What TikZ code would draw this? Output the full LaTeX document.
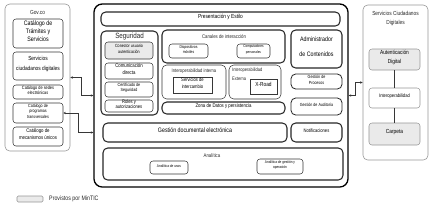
\documentclass[tikz,border=0pt]{standalone}
\usepackage{fontspec}
\setmainfont[FakeStretch=0.82]{Liberation Sans}
\usetikzlibrary{arrows.meta,fit}
\definecolor{boxgray}{RGB}{234,234,234}
\definecolor{panelgray}{RGB}{150,150,150}
\definecolor{inkgray}{RGB}{55,55,55}
\newcommand{\fsz}[2]{\fontsize{#1}{#2}\selectfont}

\begin{document}
\begin{tikzpicture}[
  x=0.03cm, y=-0.03cm,
  panel/.style={draw=panelgray, line width=0.5pt, rounded corners=4pt, inner sep=0pt, align=center},
  mainbox/.style={draw=black, line width=1.1pt, rounded corners=7pt, inner sep=0pt},
  layer/.style={draw=black!85, line width=0.9pt, rounded corners=4pt, inner sep=0pt, align=center},
  item/.style={draw=inkgray, line width=0.45pt, rounded corners=2.5pt, inner sep=0pt, align=center, fill=white},
  mintic/.style={item, fill=boxgray},
  ttl/.style={inner sep=0pt, align=center, text=black!85},
  conn/.style={{Stealth[length=2.2pt,width=2pt]}-{Stealth[length=2.2pt,width=2pt]}, line width=0.4pt, inkgray}
]
\useasboundingbox (0,0) rectangle (434,212);

% Gov.co
\node[panel, fit={(5,4)(70,151)}](govco){};
\node[ttl, font=\fsz{5}{6}](govcoT) at (37.5,12){Gov.co};
\node[item, font=\fsz{5.5}{7.2}, fit={(13,19)(63,48)}](tramites){Catálogo de\\Trámites y\\Servicios};
\node[item, font=\fsz{5}{8}, fit={(13,52)(63,80)}](scdgov){Servicios\\ciudadanos digitales};
\node[item, font=\fsz{4}{5}, fit={(13,85)(63,99)}](sedes){Catálogo de sedes\\electrónicas};
\node[item, font=\fsz{3.8}{5}, fit={(13,103)(63,123)}](prog){Catálogo de\\programas\\transversales};
\node[item, font=\fsz{4.5}{6}, fit={(13,127)(63,146)}](mecan){Catálogo de\\mecanismos únicos};

% plataforma central
\node[mainbox, fit={(94,4)(348,187)}](main){};
\node[layer, font=\fsz{5}{6}, fit={(101,12)(340,26)}](estilo){Presentación y Estilo};

\node[layer, fit={(101,31)(158,115)}](seg){};
\node[ttl, font=\fsz{6.5}{8}](segT) at (129.5,36.5){Seguridad};
\node[mintic, font=\fsz{3.8}{5}, fit={(105,42)(153,59)}](conector){Conector usuario\\autenticación};
\node[item, font=\fsz{4.5}{5.5}, fit={(105,63)(153,79)}](comdir){Comunicación\\directa};
\node[item, font=\fsz{3.8}{5}, fit={(105,82)(153,97)}](certif){Certificado de\\Seguridad};
\node[item, font=\fsz{4.3}{5}, fit={(105,100)(153,112)}](roles){Roles y\\autorizaciones};

\node[layer, fit={(162,30)(285,63)}](canales){};
\node[ttl, font=\fsz{4.5}{5.5}](canalesT) at (224,37){Canales de interacción};
\node[item, font=\fsz{3.5}{4.5}, fit={(169,44)(208,58)}](moviles){Dispositivos\\móviles};
\node[item, font=\fsz{3.2}{4.5}, fit={(237,44)(270,58)}](pcs){Computadores\\personales};

\node[item, rounded corners=4pt, fit={(162,65)(226,99)}](intint){};
\node[ttl, font=\fsz{4.3}{5}](intintT) at (194,71){Interoperabilidad interna};
\node[item, sharp corners, font=\fsz{4.3}{5.5}, fit={(173,77)(212,93)}](intercambio){Servicios de\\intercambio};

\node[item, rounded corners=4pt, fit={(229,65)(281,99)}](intext){};
\node[ttl, font=\fsz{4.2}{7.5}, align=left, anchor=north west](intextT) at (232,68){Interoperabilidad\\Externa};
\node[item, sharp corners, font=\fsz{5}{6}, fit={(250,79)(277,94)}](xroad){X-Road};

\node[layer, font=\fsz{4.5}{5.5}, fit={(162,102)(285,114)}](zona){Zona de Datos y persistencia};

\node[layer, font=\fsz{5.5}{12}, fit={(291,30)(342,68)}](admin){Administrador\\de Contenidos};
\node[layer, line width=0.7pt, font=\fsz{3.8}{5}, fit={(291,74)(342,89)}](procesos){Gestión de\\Procesos};
\node[layer, line width=0.7pt, font=\fsz{3.8}{5}, fit={(291,98)(342,115)}](auditoria){Gestión de Auditoría};
\node[layer, font=\fsz{4.3}{5}, fit={(291,123)(342,142)}](notif){Notificaciones};
\node[layer, font=\fsz{5.5}{6.5}, fit={(103,123)(287,142)}](gestdoc){Gestión documental electrónica};

\node[layer, fit={(103,148)(343,180)}](analitica){};
\node[ttl, font=\fsz{4.5}{5.5}](analiticaT) at (212,156){Analítica};
\node[item, font=\fsz{3.3}{4.5}, fit={(150,161)(188,174)}](usos){Analítica de usos};
\node[item, font=\fsz{3.3}{4.5}, fit={(257,159)(303,174)}](gestop){Analítica de gestión y\\operación};

% servicios ciudadanos digitales
\node[panel, fit={(363,5)(428,160)}](scd){};
\node[ttl, font=\fsz{5}{7}](scdT) at (395.5,18.5){Servicios Ciudadanos\\Digitales};
\node[mintic, draw=panelgray, font=\fsz{5}{7.5}, fit={(369,49)(420,70)}](autdig){Autenticación\\Digital};
\node[item, draw=panelgray, font=\fsz{4.3}{5}, fit={(369,88)(420,108)}](interop){Interoperabilidad};
\node[mintic, draw=panelgray, font=\fsz{5}{6}, fit={(369,123)(420,145)}](carpeta){Carpeta};

% leyenda
\node[mintic, draw=panelgray, rounded corners=1pt, fit={(17,196)(43,202)}](leyenda){};
\node[ttl, anchor=west, font=\fsz{5.5}{6.5}](leyendaT) at (49,199){Provistos por MinTIC};

\draw[conn](govco.east) -- ++(11,0) |- (main.west);
\draw[conn](prog.east) -- ++(15,0) |- (main.west |- gestdoc);
\draw[conn](main.east) -- ++(7,0) |- (scd.west);
\draw[inkgray, line width=0.5pt](autdig) -- (interop);
\draw[inkgray, line width=0.5pt](interop) -- (carpeta);
\end{tikzpicture}
\end{document}
